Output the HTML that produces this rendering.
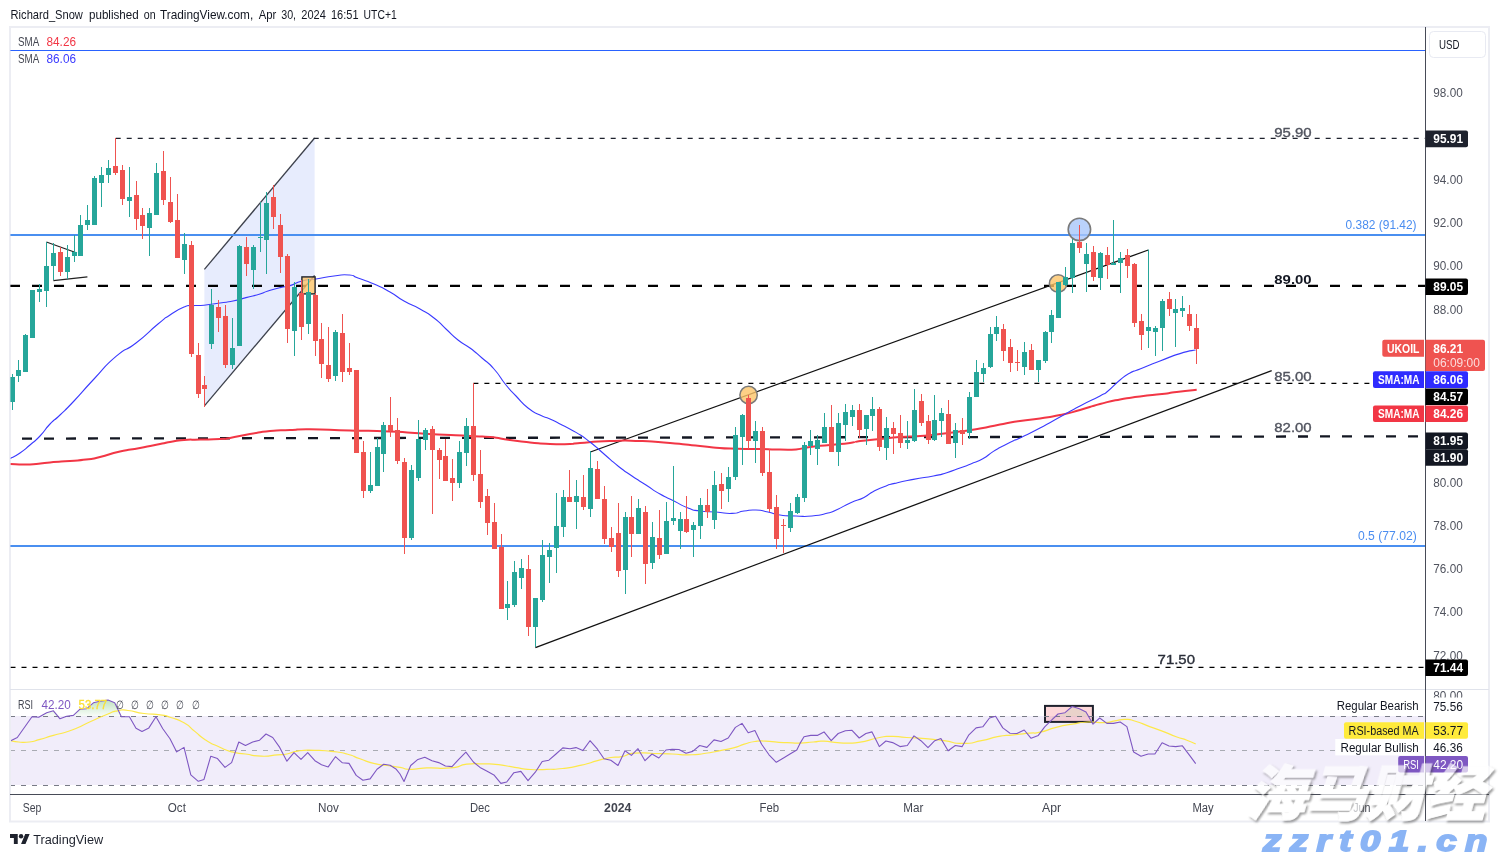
<!DOCTYPE html>
<html><head><meta charset="utf-8"><title>UKOIL chart</title>
<style>
html,body{margin:0;padding:0;background:#fff;}
body{width:1499px;height:857px;overflow:hidden;position:relative;font-family:"Liberation Sans", sans-serif;}
svg{position:absolute;left:0;top:0;display:block}
svg text{font-family:"Liberation Sans", sans-serif;}
svg text.wm{font-family:"Liberation Sans","Noto Sans CJK SC","WenQuanYi Zen Hei",sans-serif;font-weight:900;}
</style></head><body>
<svg width="1499" height="857" viewBox="0 0 1499 857">
<rect width="1499" height="857" fill="#ffffff"/>
<text y="19" font-size="13" fill="#131722"><tspan x="10.6" textLength="72.3" lengthAdjust="spacingAndGlyphs">Richard_Snow</tspan> <tspan x="89" textLength="49.7" lengthAdjust="spacingAndGlyphs">published</tspan> <tspan x="143.8" textLength="11.8" lengthAdjust="spacingAndGlyphs">on</tspan> <tspan x="160" textLength="93.2" lengthAdjust="spacingAndGlyphs">TradingView.com,</tspan> <tspan x="258.7" textLength="17.6" lengthAdjust="spacingAndGlyphs">Apr</tspan> <tspan x="281.2" textLength="14.9" lengthAdjust="spacingAndGlyphs">30,</tspan> <tspan x="301.3" textLength="24.5" lengthAdjust="spacingAndGlyphs">2024</tspan> <tspan x="331" textLength="27.5" lengthAdjust="spacingAndGlyphs">16:51</tspan> <tspan x="363.6" textLength="33.1" lengthAdjust="spacingAndGlyphs">UTC+1</tspan></text>
<rect x="10" y="27" width="1479" height="794.5" fill="#fff" stroke="#ecedf3" stroke-width="2"/>
<defs><clipPath id="mp"><rect x="10.4" y="28" width="1415.1" height="661"/></clipPath><clipPath id="rp"><rect x="11" y="690" width="1414.5" height="104"/></clipPath></defs>
<g clip-path="url(#mp)">
<line x1="10" y1="50.5" x2="1426" y2="50.5" stroke="#2962ff" stroke-width="1.1"/>
<polygon points="204.4,269.4 314.6,138 314.6,275.5 204.4,405.8" fill="#e7ecfd"/>
<line x1="204.4" y1="269.4" x2="314.6" y2="138" stroke="#3c404b" stroke-width="1.3"/>
<line x1="204.4" y1="405.8" x2="314.6" y2="275.5" stroke="#3c404b" stroke-width="1.3"/>
<line x1="10" y1="235" x2="1426" y2="235" stroke="#4a8ff0" stroke-width="2"/>
<line x1="10" y1="546" x2="1426" y2="546" stroke="#4a8ff0" stroke-width="2"/>
<line x1="115.7" y1="138.4" x2="1426" y2="138.4" stroke="#1e222d" stroke-width="1.15" stroke-dasharray="5 6"/>
<line x1="10" y1="285.9" x2="1426" y2="285.9" stroke="#000" stroke-width="2.2" stroke-dasharray="10 12"/>
<line x1="473.4" y1="383.4" x2="1369.5" y2="383.4" stroke="#000" stroke-width="1.15" stroke-dasharray="5 6"/>
<line x1="22" y1="438.6" x2="1418.3" y2="436.3" stroke="#131722" stroke-width="2.3" stroke-dasharray="10 12"/>
<line x1="10.5" y1="667.4" x2="1426" y2="667.4" stroke="#000" stroke-width="1.15" stroke-dasharray="5 6"/>
<line x1="46.4" y1="242" x2="77" y2="253" stroke="#222" stroke-width="1.2"/>
<line x1="53.4" y1="280.6" x2="87.4" y2="276.8" stroke="#222" stroke-width="1.2"/>
<line x1="590.4" y1="452" x2="1148.3" y2="250" stroke="#111" stroke-width="1.3"/>
<line x1="535.4" y1="647.6" x2="1271.7" y2="370.7" stroke="#111" stroke-width="1.3"/>
<line x1="1148.5" y1="249.6" x2="1148.5" y2="330" stroke="#26a69a" stroke-width="1"/>
<path d="M10.4,464.0C16.9,464.1 16.8,464.9 30.0,464.4C43.2,463.9 36.7,463.5 50.0,462.4C63.3,461.3 58.0,461.9 70.0,461.0C82.0,460.1 76.0,460.9 86.0,459.6C96.0,458.3 88.7,459.7 100.0,457.0C111.3,454.3 106.7,454.6 120.0,451.6C133.3,448.6 126.7,450.5 140.0,448.0C153.3,445.5 150.0,446.0 160.0,444.0C170.0,442.0 162.0,443.3 170.0,442.0C178.0,440.7 174.0,440.8 184.0,440.0C194.0,439.2 188.0,439.9 200.0,439.6C212.0,439.3 210.0,439.5 220.0,439.0C230.0,438.5 220.0,439.7 230.0,438.0C240.0,436.3 236.7,436.3 250.0,434.0C263.3,431.7 256.7,432.3 270.0,431.0C283.3,429.7 276.7,430.6 290.0,430.0C303.3,429.4 290.0,429.1 310.0,429.2C330.0,429.3 323.3,429.6 350.0,430.4C376.7,431.2 363.3,430.4 390.0,431.6C416.7,432.8 403.3,432.5 430.0,434.0C456.7,435.5 450.0,435.0 470.0,436.0C490.0,437.0 476.7,435.7 490.0,437.0C503.3,438.3 496.7,438.2 510.0,440.0C523.3,441.8 516.7,441.1 530.0,442.4C543.3,443.7 536.7,443.5 550.0,444.0C563.3,444.5 560.0,444.3 570.0,444.0C580.0,443.7 566.7,444.0 580.0,443.0C593.3,442.0 590.0,441.7 610.0,441.0C630.0,440.3 620.0,440.3 640.0,441.0C660.0,441.7 650.0,441.3 670.0,443.0C690.0,444.7 680.0,444.1 700.0,446.0C720.0,447.9 710.0,447.6 730.0,448.6C750.0,449.6 743.3,448.7 760.0,449.0C776.7,449.3 768.0,449.5 780.0,449.6C792.0,449.7 786.0,450.3 796.0,449.4C806.0,448.5 798.7,448.5 810.0,447.0C821.3,445.5 816.7,446.3 830.0,445.0C843.3,443.7 840.0,444.3 850.0,443.0C860.0,441.7 850.0,442.3 860.0,441.0C870.0,439.7 866.7,440.3 880.0,439.0C893.3,437.7 886.7,438.0 900.0,437.0C913.3,436.0 906.7,437.0 920.0,436.0C933.3,435.0 926.7,435.5 940.0,434.0C953.3,432.5 946.7,433.4 960.0,431.6C973.3,429.8 966.7,431.0 980.0,428.6C993.3,426.2 986.7,426.9 1000.0,424.4C1013.3,421.9 1006.7,423.0 1020.0,421.0C1033.3,419.0 1026.7,420.4 1040.0,418.4C1053.3,416.4 1046.7,417.8 1060.0,415.0C1073.3,412.2 1066.7,413.7 1080.0,410.0C1093.3,406.3 1086.7,407.5 1100.0,404.0C1113.3,400.5 1106.7,401.9 1120.0,399.4C1133.3,396.9 1126.0,398.4 1140.0,396.6C1154.0,394.8 1149.8,395.5 1162.0,394.0C1174.2,392.5 1165.1,393.4 1176.7,392.0C1188.3,390.6 1190.0,390.5 1196.7,389.8" fill="none" stroke="#f23645" stroke-width="2" stroke-linejoin="round"/>
<path d="M10.4,458.4C13.6,456.6 13.5,457.5 20.0,453.0C26.5,448.5 23.3,450.7 30.0,445.0C36.7,439.3 33.3,443.0 40.0,436.0C46.7,429.0 43.3,431.0 50.0,424.0C56.7,417.0 52.0,422.7 60.0,415.0C68.0,407.3 62.7,413.0 74.0,401.0C85.3,389.0 80.0,393.9 94.0,379.0C108.0,364.1 102.0,368.4 116.0,356.4C130.0,344.4 122.0,353.8 136.0,343.0C150.0,332.2 146.7,333.3 158.0,324.0C169.3,314.7 161.3,320.7 170.0,315.0C178.7,309.3 176.7,310.1 184.0,307.0C191.3,303.9 185.3,306.2 192.0,305.6C198.7,305.0 194.7,306.1 204.0,305.2C213.3,304.3 210.3,304.4 220.0,303.0C229.7,301.6 224.3,302.8 233.0,301.0C241.7,299.2 237.0,299.9 246.0,297.6C255.0,295.3 252.7,296.2 260.0,294.0C267.3,291.8 261.3,293.1 268.0,291.0C274.7,288.9 272.7,289.4 280.0,287.6C287.3,285.8 282.7,287.8 290.0,285.6C297.3,283.4 293.3,283.2 302.0,281.0C310.7,278.8 305.3,280.7 316.0,279.0C326.7,277.3 323.0,277.3 334.0,276.0C345.0,274.7 341.0,274.3 349.0,275.0C357.0,275.7 349.7,275.0 358.0,278.0C366.3,281.0 363.3,279.3 374.0,284.0C384.7,288.7 380.0,286.3 390.0,292.0C400.0,297.7 394.0,295.3 404.0,301.0C414.0,306.7 410.0,303.3 420.0,309.0C430.0,314.7 425.3,311.3 434.0,318.0C442.7,324.7 438.0,321.7 446.0,329.0C454.0,336.3 450.0,333.7 458.0,340.0C466.0,346.3 462.0,342.0 470.0,348.0C478.0,354.0 474.0,351.0 482.0,358.0C490.0,365.0 486.0,360.0 494.0,369.0C502.0,378.0 498.7,376.0 506.0,385.0C513.3,394.0 508.7,388.3 516.0,396.0C523.3,403.7 520.0,401.7 528.0,408.0C536.0,414.3 532.7,411.3 540.0,415.0C547.3,418.7 542.7,415.7 550.0,419.0C557.3,422.3 553.3,420.5 562.0,425.0C570.7,429.5 566.7,426.7 576.0,432.4C585.3,438.1 580.7,434.8 590.0,442.0C599.3,449.2 594.7,446.0 604.0,454.0C613.3,462.0 608.7,458.7 618.0,466.0C627.3,473.3 622.7,469.7 632.0,476.0C641.3,482.3 636.7,479.0 646.0,485.0C655.3,491.0 650.7,488.7 660.0,494.0C669.3,499.3 664.7,496.3 674.0,501.0C683.3,505.7 679.3,504.7 688.0,508.0C696.7,511.3 690.7,509.7 700.0,511.0C709.3,512.3 705.3,511.2 716.0,512.0C726.7,512.8 722.7,513.7 732.0,513.4C741.3,513.1 736.0,512.1 744.0,511.0C752.0,509.9 748.0,509.7 756.0,510.0C764.0,510.3 760.0,510.3 768.0,512.0C776.0,513.7 770.7,513.7 780.0,515.0C789.3,516.3 785.3,515.7 796.0,516.0C806.7,516.3 801.3,517.0 812.0,516.0C822.7,515.0 819.6,515.2 828.0,513.0C836.4,510.8 829.7,512.8 837.3,509.4C844.9,506.0 841.8,506.7 850.7,502.7C859.6,498.7 856.4,501.2 864.0,497.4C871.6,493.6 866.7,495.0 873.4,491.4C880.1,487.8 876.9,489.4 884.0,486.7C891.1,484.0 884.9,485.8 894.7,483.4C904.5,481.0 900.5,481.9 913.4,479.4C926.3,476.9 922.3,478.2 933.4,476.0C944.5,473.8 937.9,475.4 946.8,472.7C955.7,470.0 952.0,470.9 960.0,468.0C968.0,465.1 963.2,467.1 970.8,464.0C978.4,460.9 975.3,462.9 982.8,458.7C990.3,454.5 986.3,455.8 993.4,451.4C1000.5,447.0 997.3,449.0 1004.0,445.4C1010.7,441.8 1008.2,443.2 1013.5,440.7C1018.8,438.2 1011.2,442.2 1020.0,438.0C1028.8,433.8 1026.7,435.0 1040.0,428.0C1053.3,421.0 1046.7,424.3 1060.0,417.0C1073.3,409.7 1066.7,413.0 1080.0,406.0C1093.3,399.0 1090.7,401.0 1100.0,396.0C1109.3,391.0 1101.3,396.3 1108.0,391.0C1114.7,385.7 1112.7,386.0 1120.0,380.0C1127.3,374.0 1123.3,376.7 1130.0,373.0C1136.7,369.3 1130.0,373.0 1140.0,369.0C1150.0,365.0 1146.7,366.1 1160.0,361.0C1173.3,355.9 1168.1,357.3 1180.0,353.6C1191.9,349.9 1190.4,351.2 1195.6,350.0" fill="none" stroke="#3a3aff" stroke-width="1.1" stroke-linejoin="round"/>
<rect x="301.9" y="276.9" width="13.2" height="17" fill="#fcc468" fill-opacity="0.8" stroke="#20242e" stroke-width="1.4"/>
<circle cx="748.6" cy="395" r="8.7" fill="#fcc468" fill-opacity="0.8" stroke="#7a7a7a" stroke-width="1.5"/>
<circle cx="1058.1" cy="283.5" r="8.7" fill="#fcc468" fill-opacity="0.8" stroke="#7a7a7a" stroke-width="1.5"/>
<circle cx="1079.4" cy="229.4" r="11.2" fill="#a9c7fa" fill-opacity="0.8" stroke="#7a7a7a" stroke-width="1.6"/>
<g shape-rendering="crispEdges">
<rect x="12" y="374" width="1" height="36" fill="#26a69a"/><rect x="10" y="377" width="5" height="25" fill="#26a69a"/>
<rect x="18" y="360" width="1" height="22" fill="#26a69a"/><rect x="16" y="370" width="5" height="6" fill="#26a69a"/>
<rect x="25" y="334" width="1" height="38" fill="#26a69a"/><rect x="23" y="335" width="5" height="37" fill="#26a69a"/>
<rect x="32" y="290" width="1" height="48" fill="#26a69a"/><rect x="30" y="290" width="5" height="48" fill="#26a69a"/>
<rect x="39" y="284" width="1" height="18" fill="#26a69a"/><rect x="37" y="289" width="5" height="3" fill="#26a69a"/>
<rect x="46" y="242" width="1" height="65" fill="#26a69a"/><rect x="44" y="266" width="5" height="25" fill="#26a69a"/>
<rect x="53" y="243" width="1" height="37" fill="#26a69a"/><rect x="51" y="253" width="5" height="13" fill="#26a69a"/>
<rect x="60" y="247" width="1" height="29" fill="#ef5350"/><rect x="58" y="252" width="5" height="20" fill="#ef5350"/>
<rect x="67" y="245" width="1" height="34" fill="#26a69a"/><rect x="65" y="257" width="5" height="15" fill="#26a69a"/>
<rect x="74" y="235" width="1" height="27" fill="#26a69a"/><rect x="72" y="252" width="5" height="4" fill="#26a69a"/>
<rect x="80" y="215" width="1" height="41" fill="#26a69a"/><rect x="78" y="225" width="5" height="31" fill="#26a69a"/>
<rect x="87" y="205" width="1" height="25" fill="#26a69a"/><rect x="85" y="220" width="5" height="5" fill="#26a69a"/>
<rect x="94" y="176" width="1" height="49" fill="#26a69a"/><rect x="92" y="178" width="5" height="47" fill="#26a69a"/>
<rect x="101" y="167" width="1" height="40" fill="#26a69a"/><rect x="99" y="175" width="5" height="8" fill="#26a69a"/>
<rect x="108" y="160" width="1" height="23" fill="#26a69a"/><rect x="106" y="168" width="5" height="7" fill="#26a69a"/>
<rect x="115" y="138" width="1" height="37" fill="#ef5350"/><rect x="113" y="166" width="5" height="7" fill="#ef5350"/>
<rect x="122" y="165" width="1" height="40" fill="#ef5350"/><rect x="120" y="170" width="5" height="29" fill="#ef5350"/>
<rect x="129" y="167" width="1" height="50" fill="#26a69a"/><rect x="127" y="197" width="5" height="4" fill="#26a69a"/>
<rect x="136" y="181" width="1" height="49" fill="#ef5350"/><rect x="134" y="195" width="5" height="24" fill="#ef5350"/>
<rect x="142" y="208" width="1" height="31" fill="#ef5350"/><rect x="140" y="215" width="5" height="11" fill="#ef5350"/>
<rect x="149" y="208" width="1" height="48" fill="#26a69a"/><rect x="147" y="213" width="5" height="15" fill="#26a69a"/>
<rect x="156" y="163" width="1" height="52" fill="#26a69a"/><rect x="154" y="173" width="5" height="42" fill="#26a69a"/>
<rect x="163" y="151" width="1" height="54" fill="#ef5350"/><rect x="161" y="171" width="5" height="29" fill="#ef5350"/>
<rect x="170" y="177" width="1" height="46" fill="#ef5350"/><rect x="168" y="202" width="5" height="20" fill="#ef5350"/>
<rect x="177" y="194" width="1" height="64" fill="#ef5350"/><rect x="175" y="220" width="5" height="38" fill="#ef5350"/>
<rect x="184" y="233" width="1" height="41" fill="#26a69a"/><rect x="182" y="244" width="5" height="16" fill="#26a69a"/>
<rect x="191" y="241" width="1" height="116" fill="#ef5350"/><rect x="189" y="245" width="5" height="109" fill="#ef5350"/>
<rect x="198" y="343" width="1" height="55" fill="#ef5350"/><rect x="196" y="355" width="5" height="39" fill="#ef5350"/>
<rect x="204" y="376" width="1" height="31" fill="#ef5350"/><rect x="202" y="385" width="5" height="4" fill="#ef5350"/>
<rect x="211" y="289" width="1" height="60" fill="#26a69a"/><rect x="209" y="305" width="5" height="39" fill="#26a69a"/>
<rect x="218" y="300" width="1" height="32" fill="#ef5350"/><rect x="216" y="307" width="5" height="11" fill="#ef5350"/>
<rect x="225" y="305" width="1" height="63" fill="#ef5350"/><rect x="223" y="316" width="5" height="49" fill="#ef5350"/>
<rect x="232" y="318" width="1" height="51" fill="#26a69a"/><rect x="230" y="348" width="5" height="17" fill="#26a69a"/>
<rect x="239" y="245" width="1" height="101" fill="#26a69a"/><rect x="237" y="246" width="5" height="100" fill="#26a69a"/>
<rect x="246" y="237" width="1" height="39" fill="#ef5350"/><rect x="244" y="247" width="5" height="17" fill="#ef5350"/>
<rect x="253" y="245" width="1" height="44" fill="#26a69a"/><rect x="251" y="247" width="5" height="23" fill="#26a69a"/>
<rect x="260" y="202" width="1" height="50" fill="#26a69a"/><rect x="258" y="237" width="5" height="1" fill="#26a69a"/>
<rect x="266" y="192" width="1" height="82" fill="#26a69a"/><rect x="264" y="203" width="5" height="37" fill="#26a69a"/>
<rect x="273" y="185" width="1" height="44" fill="#ef5350"/><rect x="271" y="197" width="5" height="20" fill="#ef5350"/>
<rect x="280" y="214" width="1" height="59" fill="#ef5350"/><rect x="278" y="225" width="5" height="32" fill="#ef5350"/>
<rect x="287" y="254" width="1" height="89" fill="#ef5350"/><rect x="285" y="256" width="5" height="73" fill="#ef5350"/>
<rect x="294" y="282" width="1" height="74" fill="#26a69a"/><rect x="292" y="287" width="5" height="44" fill="#26a69a"/>
<rect x="301" y="280" width="1" height="60" fill="#ef5350"/><rect x="299" y="293" width="5" height="34" fill="#ef5350"/>
<rect x="308" y="279" width="1" height="55" fill="#26a69a"/><rect x="306" y="292" width="5" height="32" fill="#26a69a"/>
<rect x="315" y="293" width="1" height="63" fill="#ef5350"/><rect x="313" y="295" width="5" height="46" fill="#ef5350"/>
<rect x="321" y="323" width="1" height="55" fill="#ef5350"/><rect x="319" y="339" width="5" height="25" fill="#ef5350"/>
<rect x="328" y="327" width="1" height="55" fill="#ef5350"/><rect x="326" y="365" width="5" height="14" fill="#ef5350"/>
<rect x="335" y="330" width="1" height="51" fill="#26a69a"/><rect x="333" y="332" width="5" height="44" fill="#26a69a"/>
<rect x="342" y="314" width="1" height="68" fill="#ef5350"/><rect x="340" y="333" width="5" height="39" fill="#ef5350"/>
<rect x="349" y="343" width="1" height="32" fill="#ef5350"/><rect x="347" y="368" width="5" height="4" fill="#ef5350"/>
<rect x="356" y="370" width="1" height="83" fill="#ef5350"/><rect x="354" y="370" width="5" height="83" fill="#ef5350"/>
<rect x="363" y="441" width="1" height="57" fill="#ef5350"/><rect x="361" y="452" width="5" height="39" fill="#ef5350"/>
<rect x="370" y="452" width="1" height="41" fill="#26a69a"/><rect x="368" y="485" width="5" height="6" fill="#26a69a"/>
<rect x="377" y="438" width="1" height="48" fill="#26a69a"/><rect x="375" y="447" width="5" height="39" fill="#26a69a"/>
<rect x="383" y="422" width="1" height="50" fill="#26a69a"/><rect x="381" y="425" width="5" height="29" fill="#26a69a"/>
<rect x="390" y="397" width="1" height="40" fill="#ef5350"/><rect x="388" y="425" width="5" height="6" fill="#ef5350"/>
<rect x="397" y="418" width="1" height="46" fill="#ef5350"/><rect x="395" y="430" width="5" height="31" fill="#ef5350"/>
<rect x="404" y="458" width="1" height="96" fill="#ef5350"/><rect x="402" y="462" width="5" height="76" fill="#ef5350"/>
<rect x="411" y="465" width="1" height="75" fill="#26a69a"/><rect x="409" y="470" width="5" height="68" fill="#26a69a"/>
<rect x="418" y="420" width="1" height="61" fill="#26a69a"/><rect x="416" y="439" width="5" height="39" fill="#26a69a"/>
<rect x="425" y="428" width="1" height="22" fill="#26a69a"/><rect x="423" y="430" width="5" height="10" fill="#26a69a"/>
<rect x="432" y="426" width="1" height="88" fill="#ef5350"/><rect x="430" y="429" width="5" height="21" fill="#ef5350"/>
<rect x="439" y="448" width="1" height="31" fill="#ef5350"/><rect x="437" y="450" width="5" height="10" fill="#ef5350"/>
<rect x="445" y="439" width="1" height="42" fill="#ef5350"/><rect x="443" y="456" width="5" height="25" fill="#ef5350"/>
<rect x="452" y="459" width="1" height="42" fill="#ef5350"/><rect x="450" y="478" width="5" height="5" fill="#ef5350"/>
<rect x="459" y="441" width="1" height="47" fill="#26a69a"/><rect x="457" y="452" width="5" height="31" fill="#26a69a"/>
<rect x="466" y="418" width="1" height="48" fill="#26a69a"/><rect x="464" y="426" width="5" height="27" fill="#26a69a"/>
<rect x="473" y="383" width="1" height="98" fill="#ef5350"/><rect x="471" y="426" width="5" height="49" fill="#ef5350"/>
<rect x="480" y="450" width="1" height="58" fill="#ef5350"/><rect x="478" y="474" width="5" height="28" fill="#ef5350"/>
<rect x="487" y="489" width="1" height="46" fill="#ef5350"/><rect x="485" y="496" width="5" height="27" fill="#ef5350"/>
<rect x="494" y="503" width="1" height="46" fill="#ef5350"/><rect x="492" y="522" width="5" height="27" fill="#ef5350"/>
<rect x="501" y="534" width="1" height="75" fill="#ef5350"/><rect x="499" y="547" width="5" height="62" fill="#ef5350"/>
<rect x="507" y="581" width="1" height="39" fill="#26a69a"/><rect x="505" y="604" width="5" height="4" fill="#26a69a"/>
<rect x="514" y="561" width="1" height="46" fill="#26a69a"/><rect x="512" y="572" width="5" height="33" fill="#26a69a"/>
<rect x="521" y="559" width="1" height="30" fill="#26a69a"/><rect x="519" y="568" width="5" height="10" fill="#26a69a"/>
<rect x="528" y="555" width="1" height="81" fill="#ef5350"/><rect x="526" y="569" width="5" height="58" fill="#ef5350"/>
<rect x="535" y="598" width="1" height="49" fill="#26a69a"/><rect x="533" y="598" width="5" height="29" fill="#26a69a"/>
<rect x="542" y="540" width="1" height="62" fill="#26a69a"/><rect x="540" y="555" width="5" height="45" fill="#26a69a"/>
<rect x="549" y="543" width="1" height="40" fill="#26a69a"/><rect x="547" y="550" width="5" height="7" fill="#26a69a"/>
<rect x="556" y="493" width="1" height="80" fill="#26a69a"/><rect x="554" y="526" width="5" height="22" fill="#26a69a"/>
<rect x="563" y="490" width="1" height="47" fill="#26a69a"/><rect x="561" y="497" width="5" height="30" fill="#26a69a"/>
<rect x="569" y="470" width="1" height="32" fill="#ef5350"/><rect x="567" y="497" width="5" height="5" fill="#ef5350"/>
<rect x="576" y="480" width="1" height="49" fill="#26a69a"/><rect x="574" y="496" width="5" height="6" fill="#26a69a"/>
<rect x="583" y="475" width="1" height="35" fill="#ef5350"/><rect x="581" y="497" width="5" height="10" fill="#ef5350"/>
<rect x="590" y="451" width="1" height="66" fill="#26a69a"/><rect x="588" y="468" width="5" height="41" fill="#26a69a"/>
<rect x="597" y="461" width="1" height="38" fill="#ef5350"/><rect x="595" y="469" width="5" height="30" fill="#ef5350"/>
<rect x="604" y="486" width="1" height="58" fill="#ef5350"/><rect x="602" y="499" width="5" height="40" fill="#ef5350"/>
<rect x="611" y="527" width="1" height="25" fill="#ef5350"/><rect x="609" y="538" width="5" height="9" fill="#ef5350"/>
<rect x="618" y="503" width="1" height="74" fill="#ef5350"/><rect x="616" y="533" width="5" height="38" fill="#ef5350"/>
<rect x="625" y="512" width="1" height="82" fill="#26a69a"/><rect x="623" y="517" width="5" height="53" fill="#26a69a"/>
<rect x="631" y="496" width="1" height="61" fill="#ef5350"/><rect x="629" y="517" width="5" height="17" fill="#ef5350"/>
<rect x="638" y="499" width="1" height="35" fill="#26a69a"/><rect x="636" y="508" width="5" height="26" fill="#26a69a"/>
<rect x="645" y="506" width="1" height="78" fill="#ef5350"/><rect x="643" y="512" width="5" height="52" fill="#ef5350"/>
<rect x="652" y="522" width="1" height="47" fill="#26a69a"/><rect x="650" y="537" width="5" height="26" fill="#26a69a"/>
<rect x="659" y="510" width="1" height="49" fill="#ef5350"/><rect x="657" y="538" width="5" height="17" fill="#ef5350"/>
<rect x="666" y="502" width="1" height="52" fill="#26a69a"/><rect x="664" y="521" width="5" height="33" fill="#26a69a"/>
<rect x="673" y="466" width="1" height="59" fill="#26a69a"/><rect x="671" y="518" width="5" height="3" fill="#26a69a"/>
<rect x="680" y="512" width="1" height="37" fill="#26a69a"/><rect x="678" y="519" width="5" height="12" fill="#26a69a"/>
<rect x="686" y="496" width="1" height="37" fill="#ef5350"/><rect x="684" y="519" width="5" height="13" fill="#ef5350"/>
<rect x="693" y="522" width="1" height="35" fill="#26a69a"/><rect x="691" y="525" width="5" height="5" fill="#26a69a"/>
<rect x="700" y="498" width="1" height="41" fill="#26a69a"/><rect x="698" y="505" width="5" height="21" fill="#26a69a"/>
<rect x="707" y="489" width="1" height="29" fill="#ef5350"/><rect x="705" y="505" width="5" height="7" fill="#ef5350"/>
<rect x="714" y="471" width="1" height="58" fill="#26a69a"/><rect x="712" y="485" width="5" height="35" fill="#26a69a"/>
<rect x="721" y="473" width="1" height="36" fill="#ef5350"/><rect x="719" y="484" width="5" height="7" fill="#ef5350"/>
<rect x="728" y="467" width="1" height="35" fill="#26a69a"/><rect x="726" y="477" width="5" height="12" fill="#26a69a"/>
<rect x="735" y="427" width="1" height="53" fill="#26a69a"/><rect x="733" y="435" width="5" height="42" fill="#26a69a"/>
<rect x="742" y="414" width="1" height="51" fill="#26a69a"/><rect x="740" y="415" width="5" height="22" fill="#26a69a"/>
<rect x="748" y="395" width="1" height="54" fill="#ef5350"/><rect x="746" y="398" width="5" height="43" fill="#ef5350"/>
<rect x="755" y="421" width="1" height="42" fill="#26a69a"/><rect x="753" y="431" width="5" height="10" fill="#26a69a"/>
<rect x="762" y="427" width="1" height="49" fill="#ef5350"/><rect x="760" y="431" width="5" height="42" fill="#ef5350"/>
<rect x="769" y="449" width="1" height="63" fill="#ef5350"/><rect x="767" y="472" width="5" height="37" fill="#ef5350"/>
<rect x="776" y="495" width="1" height="54" fill="#ef5350"/><rect x="774" y="507" width="5" height="32" fill="#ef5350"/>
<rect x="783" y="519" width="1" height="34" fill="#ef5350"/><rect x="781" y="525" width="5" height="1" fill="#ef5350"/>
<rect x="790" y="503" width="1" height="29" fill="#26a69a"/><rect x="788" y="511" width="5" height="17" fill="#26a69a"/>
<rect x="797" y="494" width="1" height="20" fill="#26a69a"/><rect x="795" y="497" width="5" height="16" fill="#26a69a"/>
<rect x="804" y="442" width="1" height="60" fill="#26a69a"/><rect x="802" y="445" width="5" height="53" fill="#26a69a"/>
<rect x="810" y="430" width="1" height="25" fill="#26a69a"/><rect x="808" y="441" width="5" height="5" fill="#26a69a"/>
<rect x="817" y="435" width="1" height="30" fill="#26a69a"/><rect x="815" y="440" width="5" height="9" fill="#26a69a"/>
<rect x="824" y="413" width="1" height="30" fill="#26a69a"/><rect x="822" y="427" width="5" height="16" fill="#26a69a"/>
<rect x="831" y="405" width="1" height="47" fill="#ef5350"/><rect x="829" y="427" width="5" height="25" fill="#ef5350"/>
<rect x="838" y="413" width="1" height="53" fill="#26a69a"/><rect x="836" y="423" width="5" height="29" fill="#26a69a"/>
<rect x="845" y="404" width="1" height="37" fill="#26a69a"/><rect x="843" y="412" width="5" height="13" fill="#26a69a"/>
<rect x="852" y="405" width="1" height="21" fill="#26a69a"/><rect x="850" y="410" width="5" height="7" fill="#26a69a"/>
<rect x="859" y="404" width="1" height="34" fill="#ef5350"/><rect x="857" y="410" width="5" height="20" fill="#ef5350"/>
<rect x="866" y="415" width="1" height="30" fill="#26a69a"/><rect x="864" y="415" width="5" height="14" fill="#26a69a"/>
<rect x="872" y="397" width="1" height="34" fill="#26a69a"/><rect x="870" y="409" width="5" height="7" fill="#26a69a"/>
<rect x="879" y="407" width="1" height="44" fill="#ef5350"/><rect x="877" y="409" width="5" height="38" fill="#ef5350"/>
<rect x="886" y="417" width="1" height="43" fill="#26a69a"/><rect x="884" y="428" width="5" height="20" fill="#26a69a"/>
<rect x="893" y="422" width="1" height="32" fill="#ef5350"/><rect x="891" y="428" width="5" height="6" fill="#ef5350"/>
<rect x="900" y="415" width="1" height="33" fill="#ef5350"/><rect x="898" y="433" width="5" height="10" fill="#ef5350"/>
<rect x="907" y="421" width="1" height="28" fill="#26a69a"/><rect x="905" y="440" width="5" height="3" fill="#26a69a"/>
<rect x="914" y="389" width="1" height="53" fill="#26a69a"/><rect x="912" y="410" width="5" height="31" fill="#26a69a"/>
<rect x="921" y="394" width="1" height="32" fill="#ef5350"/><rect x="919" y="401" width="5" height="22" fill="#ef5350"/>
<rect x="928" y="415" width="1" height="29" fill="#ef5350"/><rect x="926" y="421" width="5" height="19" fill="#ef5350"/>
<rect x="934" y="395" width="1" height="46" fill="#26a69a"/><rect x="932" y="420" width="5" height="20" fill="#26a69a"/>
<rect x="941" y="408" width="1" height="29" fill="#26a69a"/><rect x="939" y="413" width="5" height="8" fill="#26a69a"/>
<rect x="948" y="400" width="1" height="44" fill="#ef5350"/><rect x="946" y="414" width="5" height="30" fill="#ef5350"/>
<rect x="955" y="423" width="1" height="35" fill="#26a69a"/><rect x="953" y="430" width="5" height="13" fill="#26a69a"/>
<rect x="962" y="418" width="1" height="27" fill="#ef5350"/><rect x="960" y="430" width="5" height="4" fill="#ef5350"/>
<rect x="969" y="392" width="1" height="47" fill="#26a69a"/><rect x="967" y="397" width="5" height="36" fill="#26a69a"/>
<rect x="976" y="360" width="1" height="37" fill="#26a69a"/><rect x="974" y="372" width="5" height="25" fill="#26a69a"/>
<rect x="983" y="363" width="1" height="19" fill="#26a69a"/><rect x="981" y="368" width="5" height="6" fill="#26a69a"/>
<rect x="990" y="327" width="1" height="41" fill="#26a69a"/><rect x="988" y="334" width="5" height="33" fill="#26a69a"/>
<rect x="996" y="316" width="1" height="25" fill="#26a69a"/><rect x="994" y="327" width="5" height="7" fill="#26a69a"/>
<rect x="1003" y="324" width="1" height="37" fill="#ef5350"/><rect x="1001" y="329" width="5" height="22" fill="#ef5350"/>
<rect x="1010" y="339" width="1" height="33" fill="#ef5350"/><rect x="1008" y="347" width="5" height="16" fill="#ef5350"/>
<rect x="1017" y="350" width="1" height="21" fill="#ef5350"/><rect x="1015" y="362" width="5" height="1" fill="#ef5350"/>
<rect x="1024" y="342" width="1" height="33" fill="#26a69a"/><rect x="1022" y="352" width="5" height="15" fill="#26a69a"/>
<rect x="1031" y="344" width="1" height="26" fill="#ef5350"/><rect x="1029" y="350" width="5" height="20" fill="#ef5350"/>
<rect x="1038" y="360" width="1" height="22" fill="#26a69a"/><rect x="1036" y="360" width="5" height="10" fill="#26a69a"/>
<rect x="1045" y="331" width="1" height="32" fill="#26a69a"/><rect x="1043" y="332" width="5" height="29" fill="#26a69a"/>
<rect x="1051" y="310" width="1" height="33" fill="#26a69a"/><rect x="1049" y="315" width="5" height="17" fill="#26a69a"/>
<rect x="1058" y="282" width="1" height="36" fill="#26a69a"/><rect x="1056" y="282" width="5" height="36" fill="#26a69a"/>
<rect x="1065" y="267" width="1" height="19" fill="#26a69a"/><rect x="1063" y="277" width="5" height="8" fill="#26a69a"/>
<rect x="1072" y="239" width="1" height="54" fill="#26a69a"/><rect x="1070" y="243" width="5" height="35" fill="#26a69a"/>
<rect x="1079" y="225" width="1" height="28" fill="#ef5350"/><rect x="1077" y="242" width="5" height="6" fill="#ef5350"/>
<rect x="1086" y="243" width="1" height="49" fill="#26a69a"/><rect x="1084" y="254" width="5" height="10" fill="#26a69a"/>
<rect x="1093" y="246" width="1" height="35" fill="#ef5350"/><rect x="1091" y="252" width="5" height="25" fill="#ef5350"/>
<rect x="1100" y="252" width="1" height="38" fill="#26a69a"/><rect x="1098" y="253" width="5" height="25" fill="#26a69a"/>
<rect x="1107" y="247" width="1" height="32" fill="#ef5350"/><rect x="1105" y="255" width="5" height="10" fill="#ef5350"/>
<rect x="1113" y="220" width="1" height="45" fill="#26a69a"/><rect x="1111" y="263" width="5" height="2" fill="#26a69a"/>
<rect x="1120" y="252" width="1" height="41" fill="#26a69a"/><rect x="1118" y="258" width="5" height="5" fill="#26a69a"/>
<rect x="1127" y="249" width="1" height="29" fill="#ef5350"/><rect x="1125" y="255" width="5" height="11" fill="#ef5350"/>
<rect x="1134" y="263" width="1" height="64" fill="#ef5350"/><rect x="1132" y="264" width="5" height="59" fill="#ef5350"/>
<rect x="1141" y="314" width="1" height="36" fill="#ef5350"/><rect x="1139" y="321" width="5" height="14" fill="#ef5350"/>
<rect x="1148" y="250" width="1" height="98" fill="#26a69a"/><rect x="1146" y="327" width="5" height="4" fill="#26a69a"/>
<rect x="1155" y="326" width="1" height="30" fill="#26a69a"/><rect x="1153" y="328" width="5" height="4" fill="#26a69a"/>
<rect x="1162" y="299" width="1" height="52" fill="#26a69a"/><rect x="1160" y="301" width="5" height="27" fill="#26a69a"/>
<rect x="1169" y="292" width="1" height="24" fill="#ef5350"/><rect x="1167" y="299" width="5" height="10" fill="#ef5350"/>
<rect x="1175" y="299" width="1" height="48" fill="#26a69a"/><rect x="1173" y="309" width="5" height="4" fill="#26a69a"/>
<rect x="1182" y="296" width="1" height="21" fill="#26a69a"/><rect x="1180" y="308" width="5" height="3" fill="#26a69a"/>
<rect x="1189" y="305" width="1" height="26" fill="#ef5350"/><rect x="1187" y="314" width="5" height="12" fill="#ef5350"/>
<rect x="1196" y="314" width="1" height="50" fill="#ef5350"/><rect x="1194" y="328" width="5" height="21" fill="#ef5350"/>
</g>
<text x="1274.3" y="136.5" font-size="13" fill="#50535e" text-anchor="start" font-weight="normal" textLength="37.4" lengthAdjust="spacingAndGlyphs" stroke="#50535e" stroke-width="0.35">95.90</text>
<text x="1274.3" y="283.5" font-size="13" fill="#131722" text-anchor="start" font-weight="bold" textLength="37.4" lengthAdjust="spacingAndGlyphs">89.00</text>
<text x="1274.3" y="380.8" font-size="13" fill="#50535e" text-anchor="start" font-weight="normal" textLength="37.4" lengthAdjust="spacingAndGlyphs" stroke="#50535e" stroke-width="0.35">85.00</text>
<text x="1274.3" y="432.0" font-size="13" fill="#50535e" text-anchor="start" font-weight="normal" textLength="37.4" lengthAdjust="spacingAndGlyphs" stroke="#50535e" stroke-width="0.35">82.00</text>
<text x="1157.6" y="664.0" font-size="13" fill="#2a2e39" text-anchor="start" font-weight="normal" textLength="37.4" lengthAdjust="spacingAndGlyphs" stroke="#2a2e39" stroke-width="0.35">71.50</text>
<text x="1345.6" y="229.3" font-size="12" fill="#4a8df0" text-anchor="start" font-weight="normal" textLength="71.0" lengthAdjust="spacingAndGlyphs">0.382 (91.42)</text>
<text x="1358.0" y="540.3" font-size="12" fill="#4a8df0" text-anchor="start" font-weight="normal" textLength="58.7" lengthAdjust="spacingAndGlyphs">0.5 (77.02)</text>
</g>
<text x="18.0" y="45.8" font-size="12" fill="#434651" text-anchor="start" font-weight="normal" textLength="21.3" lengthAdjust="spacingAndGlyphs">SMA</text>
<text x="46.5" y="45.8" font-size="12" fill="#f23645" text-anchor="start" font-weight="normal" textLength="29.5" lengthAdjust="spacingAndGlyphs">84.26</text>
<text x="18.0" y="62.8" font-size="12" fill="#434651" text-anchor="start" font-weight="normal" textLength="21.3" lengthAdjust="spacingAndGlyphs">SMA</text>
<text x="46.5" y="62.8" font-size="12" fill="#3a3aff" text-anchor="start" font-weight="normal" textLength="29.5" lengthAdjust="spacingAndGlyphs">86.06</text>
<line x1="10" y1="689.5" x2="1489" y2="689.5" stroke="#e0e3eb" stroke-width="1"/>
<g clip-path="url(#rp)">
<rect x="10" y="716" width="1416" height="69" fill="#f1edfa"/>
<defs><linearGradient id="gg" x1="0" y1="0" x2="0" y2="1"><stop offset="0" stop-color="#4caf50" stop-opacity="0.35"/><stop offset="1" stop-color="#4caf50" stop-opacity="0.03"/></linearGradient></defs>
<polygon points="32.0,716.5 38.7,716.5 46.7,712.7 53.4,710.8 60.0,716.5 66.7,716.2 73.4,715.4 80.0,709.2 86.7,708.7 93.4,702.8 100.0,701.2 108.0,700.1 114.7,702.8 121.4,716.5 129.4,716.5 129.4,716.5 32,716.5" fill="url(#gg)"/>
<rect x="1045" y="705.9" width="47.9" height="16" fill="#f77c80" fill-opacity="0.3" stroke="#1e222d" stroke-width="2"/>
<polygon points="1052.5,716.5 1051.6,720.2 1058.0,714.0 1065.0,712.7 1072.2,706.5 1079.4,708.7 1086.0,711.9 1088.6,716.5" fill="#4caf50" fill-opacity="0.11"/>
<line x1="10" y1="716.5" x2="1426" y2="716.5" stroke="#787b86" stroke-width="1" stroke-dasharray="5 6"/>
<line x1="10" y1="750.5" x2="1426" y2="750.5" stroke="#a9abb3" stroke-width="1" stroke-dasharray="5 6"/>
<line x1="10" y1="785.5" x2="1426" y2="785.5" stroke="#787b86" stroke-width="1" stroke-dasharray="5 6"/>
<path d="M10.7,740.7C13.4,741.1 12.5,741.6 18.7,742.0C24.9,742.4 22.3,742.9 29.4,742.0C36.5,741.1 32.0,741.6 40.0,739.4C48.0,737.2 42.7,738.5 53.4,735.4C64.1,732.3 59.6,734.6 72.0,730.0C84.4,725.4 79.1,726.7 90.7,721.5C102.3,716.3 97.8,718.1 106.7,714.5C115.6,710.9 110.3,712.1 117.4,710.8C124.5,709.5 119.1,709.6 128.0,710.5C136.9,711.4 133.3,712.1 144.0,713.5C154.7,714.9 151.1,713.5 160.0,714.8C168.9,716.1 162.8,714.8 170.8,717.5C178.8,720.2 176.0,718.2 184.0,722.8C192.0,727.4 187.6,725.7 194.8,731.4C202.0,737.1 197.5,734.8 205.5,739.9C213.5,745.0 210.0,742.8 218.8,746.8C227.6,750.8 223.1,749.5 232.0,751.9C240.9,754.3 235.7,752.6 245.5,754.0C255.3,755.4 250.8,755.9 261.5,756.2C272.2,756.5 269.0,755.5 277.5,754.8C286.0,754.1 279.8,755.3 286.9,754.0C294.0,752.7 289.6,752.0 298.9,750.8C308.2,749.6 304.2,750.1 314.9,750.3C325.6,750.5 320.2,750.2 330.9,751.4C341.6,752.6 337.2,751.5 346.9,754.0C356.6,756.5 351.1,755.7 360.0,758.8C368.9,761.9 364.6,761.2 373.6,763.4C382.6,765.6 378.2,764.2 387.0,765.5C395.8,766.8 392.1,766.1 400.0,767.4C407.9,768.7 401.8,769.1 410.7,769.3C419.6,769.5 413.4,768.4 426.7,767.9C440.0,767.4 437.4,769.1 450.7,767.9C464.0,766.7 456.0,765.5 466.7,764.2C477.4,762.9 472.0,763.7 482.7,763.9C493.4,764.1 488.0,763.5 498.7,764.7C509.4,765.9 504.0,765.8 514.7,767.4C525.4,769.0 520.1,768.9 530.8,769.5C541.5,770.1 536.1,769.6 546.8,769.3C557.5,769.0 551.2,769.9 562.8,768.5C574.4,767.1 569.9,767.8 581.5,765.2C593.1,762.6 587.7,763.3 597.5,760.7C607.3,758.1 602.8,758.8 610.8,757.5C618.8,756.2 613.5,758.1 621.5,756.7C629.5,755.3 624.1,754.3 634.8,753.2C645.5,752.1 641.0,753.2 653.5,753.5C666.0,753.8 660.6,753.6 672.2,754.0C683.8,754.4 677.5,755.0 688.2,754.8C698.9,754.6 693.5,754.9 704.2,753.5C714.9,752.1 710.4,752.5 720.2,750.6C730.0,748.7 725.5,750.0 733.5,747.9C741.5,745.8 737.1,746.3 744.2,744.2C751.3,742.1 747.8,742.5 754.9,741.5C762.0,740.5 757.6,740.9 765.6,741.2C773.6,741.5 770.0,741.8 778.9,742.3C787.8,742.8 785.3,742.5 792.3,742.8C799.3,743.1 793.0,743.4 800.0,743.1C807.0,742.8 805.3,742.6 813.3,742.0C821.3,741.4 815.1,740.9 824.0,741.2C832.9,741.5 828.4,742.4 840.0,742.8C851.6,743.2 846.2,743.9 858.7,742.3C871.2,740.7 866.7,740.0 877.4,738.0C888.1,736.0 880.9,736.6 890.7,736.4C900.5,736.2 895.1,736.8 906.7,737.5C918.3,738.2 912.9,737.5 925.4,738.6C937.9,739.7 931.6,739.1 944.1,740.7C956.6,742.3 950.3,743.4 962.8,743.4C975.3,743.4 969.9,742.9 981.5,740.7C993.1,738.5 986.8,738.7 997.5,736.7C1008.2,734.7 1002.8,736.0 1013.5,734.8C1024.2,733.6 1020.7,734.1 1029.5,733.2C1038.3,732.3 1031.1,734.1 1040.0,732.2C1048.9,730.3 1045.5,730.1 1056.2,727.4C1066.9,724.7 1061.5,726.0 1072.2,724.2C1082.9,722.4 1077.5,722.5 1088.2,722.0C1098.9,721.5 1095.3,723.0 1104.2,722.6C1113.1,722.2 1107.8,722.0 1114.9,720.9C1122.0,719.8 1118.4,719.2 1125.5,719.4C1132.6,719.6 1128.2,719.1 1136.2,721.5C1144.2,723.9 1140.7,723.3 1149.6,726.6C1158.5,729.9 1154.0,728.0 1162.9,731.4C1171.8,734.8 1168.2,733.8 1176.2,736.7C1184.2,739.6 1180.4,737.8 1186.9,740.2C1193.4,742.6 1192.8,742.7 1195.7,743.9" fill="none" stroke="#fde84a" stroke-width="1.2" stroke-linejoin="round"/>
<polyline points="10.7,740.7 17.3,737.5 32.0,716.7 38.7,717.2 46.7,712.7 53.4,710.8 60.0,718.8 66.7,716.2 73.4,715.4 80.0,709.2 86.7,708.7 93.4,702.8 100.0,701.2 108.0,700.1 114.7,702.8 121.4,716.7 129.4,716.7 136.0,728.2 142.0,731.4 148.9,727.9 156.0,716.7 162.8,728.7 170.0,738.8 176.7,751.9 184.0,747.4 190.8,774.9 198.3,781.3 204.0,779.4 210.8,756.2 217.5,758.6 225.0,767.4 231.6,762.6 238.8,742.0 245.5,745.5 252.7,742.0 259.6,740.2 266.0,734.0 272.7,737.5 279.7,747.4 286.9,761.2 294.0,752.7 301.0,759.4 307.7,752.7 314.9,760.7 321.5,764.7 328.2,766.9 335.4,756.7 342.4,762.8 349.0,763.4 356.2,775.4 362.9,780.2 370.1,778.9 377.0,769.3 383.7,764.2 390.1,765.2 396.3,769.3 400.0,774.0 404.0,781.5 410.7,765.5 417.9,759.4 424.8,757.2 432.0,760.7 438.7,762.6 445.4,766.0 452.0,766.6 458.7,759.4 465.9,752.2 473.4,762.0 480.0,767.4 486.7,770.9 493.9,774.9 500.9,783.4 506.7,782.0 513.9,772.7 520.9,771.4 528.0,780.7 535.3,772.2 542.2,761.5 548.9,760.2 556.0,754.0 562.8,747.9 570.0,748.7 576.0,747.6 582.8,750.6 590.0,740.7 597.5,749.2 604.0,758.8 610.8,760.2 618.0,765.5 625.0,750.8 631.4,755.4 638.0,748.7 645.0,760.7 652.0,754.0 658.8,758.0 666.0,750.0 672.2,749.2 678.9,749.5 686.0,753.2 692.7,751.4 699.7,745.5 706.9,747.4 714.0,739.9 721.0,741.5 728.2,738.0 735.4,727.4 742.0,723.4 748.2,732.7 754.9,730.6 761.6,744.2 769.0,754.8 776.3,762.3 783.5,758.0 790.0,754.0 796.8,750.0 800.0,743.4 804.0,736.7 810.7,735.4 817.3,735.4 824.0,731.9 831.2,740.7 838.2,733.5 845.4,730.8 852.0,730.3 859.2,738.0 865.9,733.5 872.0,731.9 879.3,746.6 885.9,741.0 892.6,742.6 900.0,746.6 907.3,745.5 914.0,735.9 920.9,740.7 928.0,747.6 934.8,740.7 940.9,738.6 948.1,750.8 955.3,745.5 962.2,746.6 968.9,734.8 976.1,727.9 982.8,726.8 989.5,718.0 995.6,716.2 1002.8,727.9 1010.0,733.2 1016.9,733.5 1024.2,730.0 1031.1,738.3 1038.3,735.4 1044.7,726.8 1051.6,720.2 1058.0,714.0 1065.0,712.7 1072.2,706.5 1079.4,708.7 1086.0,711.9 1093.0,724.2 1099.7,718.0 1106.9,723.4 1113.5,723.4 1120.2,722.0 1126.9,726.6 1133.6,751.9 1141.0,756.2 1148.2,754.0 1154.9,754.0 1162.1,742.8 1169.0,746.0 1175.7,746.6 1182.4,745.8 1189.6,755.4 1195.7,763.6" fill="none" stroke="#7e57c2" stroke-width="1.1" stroke-linejoin="round"/>
</g>
<text x="18.0" y="709.0" font-size="12" fill="#434651" text-anchor="start" font-weight="normal" textLength="15.0" lengthAdjust="spacingAndGlyphs">RSI</text>
<text x="41.5" y="709.0" font-size="12" fill="#7e57c2" text-anchor="start" font-weight="normal" textLength="29.2" lengthAdjust="spacingAndGlyphs">42.20</text>
<text x="78.6" y="709.0" font-size="12" fill="#fbdf35" text-anchor="start" font-weight="normal" textLength="28.6" lengthAdjust="spacingAndGlyphs" stroke="#fbdf35" stroke-width="0.3">53.77</text>
<text x="115.5" y="708.8" font-size="11.5" fill="#434651" text-anchor="start" font-weight="normal" textLength="7.5" lengthAdjust="spacingAndGlyphs">∅</text>
<text x="130.6" y="708.8" font-size="11.5" fill="#434651" text-anchor="start" font-weight="normal" textLength="7.5" lengthAdjust="spacingAndGlyphs">∅</text>
<text x="146.0" y="708.8" font-size="11.5" fill="#434651" text-anchor="start" font-weight="normal" textLength="7.5" lengthAdjust="spacingAndGlyphs">∅</text>
<text x="161.2" y="708.8" font-size="11.5" fill="#434651" text-anchor="start" font-weight="normal" textLength="7.5" lengthAdjust="spacingAndGlyphs">∅</text>
<text x="176.4" y="708.8" font-size="11.5" fill="#434651" text-anchor="start" font-weight="normal" textLength="7.5" lengthAdjust="spacingAndGlyphs">∅</text>
<text x="191.5" y="708.8" font-size="11.5" fill="#434651" text-anchor="start" font-weight="normal" textLength="7.5" lengthAdjust="spacingAndGlyphs">∅</text>
<line x1="1425.5" y1="27" x2="1425.5" y2="821" stroke="#474b57" stroke-width="1"/>
<line x1="10" y1="794.5" x2="1489" y2="794.5" stroke="#474b57" stroke-width="1"/>
<rect x="1429.5" y="31.5" width="56" height="26" rx="4" fill="#fff" stroke="#e8eaf2" stroke-width="1"/>
<text x="1439.0" y="49.2" font-size="12" fill="#131722" text-anchor="start" font-weight="normal" textLength="20.5" lengthAdjust="spacingAndGlyphs">USD</text>
<text x="1433.3" y="97.3" font-size="12" fill="#50535e" text-anchor="start" font-weight="normal" textLength="29.4" lengthAdjust="spacingAndGlyphs">98.00</text>
<text x="1433.3" y="183.8" font-size="12" fill="#50535e" text-anchor="start" font-weight="normal" textLength="29.4" lengthAdjust="spacingAndGlyphs">94.00</text>
<text x="1433.3" y="227.1" font-size="12" fill="#50535e" text-anchor="start" font-weight="normal" textLength="29.4" lengthAdjust="spacingAndGlyphs">92.00</text>
<text x="1433.3" y="270.3" font-size="12" fill="#50535e" text-anchor="start" font-weight="normal" textLength="29.4" lengthAdjust="spacingAndGlyphs">90.00</text>
<text x="1433.3" y="313.6" font-size="12" fill="#50535e" text-anchor="start" font-weight="normal" textLength="29.4" lengthAdjust="spacingAndGlyphs">88.00</text>
<text x="1433.3" y="486.6" font-size="12" fill="#50535e" text-anchor="start" font-weight="normal" textLength="29.4" lengthAdjust="spacingAndGlyphs">80.00</text>
<text x="1433.3" y="529.9" font-size="12" fill="#50535e" text-anchor="start" font-weight="normal" textLength="29.4" lengthAdjust="spacingAndGlyphs">78.00</text>
<text x="1433.3" y="573.2" font-size="12" fill="#50535e" text-anchor="start" font-weight="normal" textLength="29.4" lengthAdjust="spacingAndGlyphs">76.00</text>
<text x="1433.3" y="616.4" font-size="12" fill="#50535e" text-anchor="start" font-weight="normal" textLength="29.4" lengthAdjust="spacingAndGlyphs">74.00</text>
<text x="1433.3" y="659.7" font-size="12" fill="#50535e" text-anchor="start" font-weight="normal" textLength="29.4" lengthAdjust="spacingAndGlyphs">72.00</text>
<text x="1433.3" y="700.3" font-size="12" fill="#50535e" text-anchor="start" font-weight="normal" textLength="29.4" lengthAdjust="spacingAndGlyphs">80.00</text>
<path d="M1425.5,130.5H1466.0Q1468.0,130.5 1468.0,132.5V145.2Q1468.0,147.2 1466.0,147.2H1425.5Z" fill="#1e222d"/>
<text x="1433.3" y="143.2" font-size="12" fill="#fff" text-anchor="start" font-weight="bold" textLength="29.8" lengthAdjust="spacingAndGlyphs">95.91</text>
<path d="M1425.5,278.5H1466.0Q1468.0,278.5 1468.0,280.5V293.0Q1468.0,295.0 1466.0,295.0H1425.5Z" fill="#000"/>
<text x="1433.3" y="291.1" font-size="12" fill="#fff" text-anchor="start" font-weight="bold" textLength="29.8" lengthAdjust="spacingAndGlyphs">89.05</text>
<path d="M1425.5,339.8H1483.0Q1485.0,339.8 1485.0,341.8V369.0Q1485.0,371.0 1483.0,371.0H1425.5Z" fill="#ef5350"/>
<text x="1433.3" y="353.2" font-size="12" fill="#fff" text-anchor="start" font-weight="bold" textLength="29.8" lengthAdjust="spacingAndGlyphs">86.21</text>
<text x="1433.3" y="366.8" font-size="12" fill="#fbdcdc" text-anchor="start" font-weight="normal" textLength="46.5" lengthAdjust="spacingAndGlyphs">06:09:00</text>
<path d="M1384.3,339.8H1424.0V356.7H1384.3Q1382.3,356.7 1382.3,354.7V341.8Q1382.3,339.8 1384.3,339.8Z" fill="#ef5350"/>
<text x="1387.0" y="352.6" font-size="12" fill="#fff" text-anchor="start" font-weight="bold" textLength="32.5" lengthAdjust="spacingAndGlyphs">UKOIL</text>
<path d="M1425.5,371.2H1466.0Q1468.0,371.2 1468.0,373.2V386.0Q1468.0,388.0 1466.0,388.0H1425.5Z" fill="#2f2bff"/>
<text x="1433.3" y="383.9" font-size="12" fill="#fff" text-anchor="start" font-weight="bold" textLength="29.8" lengthAdjust="spacingAndGlyphs">86.06</text>
<path d="M1375,371.2H1424V388.0H1375Q1373,388.0 1373,386.0V373.2Q1373,371.2 1375,371.2Z" fill="#2f2bff"/>
<text x="1378.0" y="383.9" font-size="12" fill="#fff" text-anchor="start" font-weight="bold" textLength="41.5" lengthAdjust="spacingAndGlyphs">SMA:MA</text>
<path d="M1425.5,388.6H1466.0Q1468.0,388.6 1468.0,390.6V403.0Q1468.0,405.0 1466.0,405.0H1425.5Z" fill="#000"/>
<text x="1433.3" y="401.1" font-size="12" fill="#fff" text-anchor="start" font-weight="bold" textLength="29.8" lengthAdjust="spacingAndGlyphs">84.57</text>
<path d="M1425.5,405.4H1466.0Q1468.0,405.4 1468.0,407.4V419.9Q1468.0,421.9 1466.0,421.9H1425.5Z" fill="#f23645"/>
<text x="1433.3" y="417.9" font-size="12" fill="#fff" text-anchor="start" font-weight="bold" textLength="29.8" lengthAdjust="spacingAndGlyphs">84.26</text>
<path d="M1375,405.4H1424V421.9H1375Q1373,421.9 1373,419.9V407.4Q1373,405.4 1375,405.4Z" fill="#f23645"/>
<text x="1378.0" y="417.9" font-size="12" fill="#fff" text-anchor="start" font-weight="bold" textLength="41.5" lengthAdjust="spacingAndGlyphs">SMA:MA</text>
<path d="M1425.5,432.5H1466.0Q1468.0,432.5 1468.0,434.5V447.2Q1468.0,449.2 1466.0,449.2H1425.5Z" fill="#131722"/>
<text x="1433.3" y="445.2" font-size="12" fill="#fff" text-anchor="start" font-weight="bold" textLength="29.8" lengthAdjust="spacingAndGlyphs">81.95</text>
<path d="M1425.5,449.2H1466.0Q1468.0,449.2 1468.0,451.2V463.8Q1468.0,465.8 1466.0,465.8H1425.5Z" fill="#131722"/>
<text x="1433.3" y="461.8" font-size="12" fill="#fff" text-anchor="start" font-weight="bold" textLength="29.8" lengthAdjust="spacingAndGlyphs">81.90</text>
<path d="M1425.5,659.4H1466.0Q1468.0,659.4 1468.0,661.4V674.0Q1468.0,676.0 1466.0,676.0H1425.5Z" fill="#000"/>
<text x="1433.3" y="672.0" font-size="12" fill="#fff" text-anchor="start" font-weight="bold" textLength="29.8" lengthAdjust="spacingAndGlyphs">71.44</text>
<rect x="1336" y="697.5" width="88" height="17" fill="#fff"/>
<rect x="1427" y="697.5" width="41" height="17" fill="#fff"/>
<text x="1336.7" y="710.4" font-size="12" fill="#131722" text-anchor="start" font-weight="normal" textLength="82.0" lengthAdjust="spacingAndGlyphs">Regular Bearish</text>
<text x="1433.3" y="711.0" font-size="12" fill="#131722" text-anchor="start" font-weight="normal" textLength="29.4" lengthAdjust="spacingAndGlyphs">75.56</text>
<path d="M1346,722.3H1424V738.6999999999999H1346Q1344,738.6999999999999 1344,736.6999999999999V724.3Q1344,722.3 1346,722.3Z" fill="#ffeb3b"/>
<text x="1348.6" y="734.9" font-size="12" fill="#131722" text-anchor="start" font-weight="normal" textLength="70.1" lengthAdjust="spacingAndGlyphs">RSI-based MA</text>
<path d="M1425.5,722.3H1466.0Q1468.0,722.3 1468.0,724.3V736.7Q1468.0,738.7 1466.0,738.7H1425.5Z" fill="#ffeb3b"/>
<text x="1433.3" y="734.8" font-size="12" fill="#131722" text-anchor="start" font-weight="normal" textLength="29.8" lengthAdjust="spacingAndGlyphs">53.77</text>
<rect x="1335.3" y="739" width="88.7" height="16.4" fill="#fff"/>
<text x="1340.5" y="751.5" font-size="12" fill="#131722" text-anchor="start" font-weight="normal" textLength="78.2" lengthAdjust="spacingAndGlyphs">Regular Bullish</text>
<text x="1433.3" y="752.0" font-size="12" fill="#131722" text-anchor="start" font-weight="normal" textLength="29.4" lengthAdjust="spacingAndGlyphs">46.36</text>
<path d="M1400.2,756H1424.0V772.5H1400.2Q1398.2,772.5 1398.2,770.5V758Q1398.2,756 1400.2,756Z" fill="#7e57c2"/>
<text x="1403.2" y="768.6" font-size="12" fill="#fff" text-anchor="start" font-weight="normal" textLength="15.8" lengthAdjust="spacingAndGlyphs">RSI</text>
<path d="M1425.5,756H1466.0Q1468.0,756 1468.0,758V770.5Q1468.0,772.5 1466.0,772.5H1425.5Z" fill="#7e57c2"/>
<text x="1433.3" y="768.5" font-size="12" fill="#fff" text-anchor="start" font-weight="normal" textLength="29.8" lengthAdjust="spacingAndGlyphs">42.20</text>
<text x="22.7" y="812.3" font-size="12" fill="#434651" text-anchor="start" font-weight="normal" textLength="18.6" lengthAdjust="spacingAndGlyphs">Sep</text>
<text x="167.8" y="812.3" font-size="12" fill="#434651" text-anchor="start" font-weight="normal" textLength="18.1" lengthAdjust="spacingAndGlyphs">Oct</text>
<text x="318.0" y="812.3" font-size="12" fill="#434651" text-anchor="start" font-weight="normal" textLength="20.8" lengthAdjust="spacingAndGlyphs">Nov</text>
<text x="470.0" y="812.3" font-size="12" fill="#434651" text-anchor="start" font-weight="normal" textLength="20.0" lengthAdjust="spacingAndGlyphs">Dec</text>
<text x="604.1" y="812.3" font-size="12" fill="#434651" text-anchor="start" font-weight="bold" textLength="27.3" lengthAdjust="spacingAndGlyphs">2024</text>
<text x="759.6" y="812.3" font-size="12" fill="#434651" text-anchor="start" font-weight="normal" textLength="19.6" lengthAdjust="spacingAndGlyphs">Feb</text>
<text x="903.2" y="812.3" font-size="12" fill="#434651" text-anchor="start" font-weight="normal" textLength="20.1" lengthAdjust="spacingAndGlyphs">Mar</text>
<text x="1042.0" y="812.3" font-size="12" fill="#434651" text-anchor="start" font-weight="normal" textLength="19.0" lengthAdjust="spacingAndGlyphs">Apr</text>
<text x="1192.4" y="812.3" font-size="12" fill="#434651" text-anchor="start" font-weight="normal" textLength="21.2" lengthAdjust="spacingAndGlyphs">May</text>
<text x="1353.2" y="812.3" font-size="12" fill="#434651" text-anchor="start" font-weight="normal" textLength="17.2" lengthAdjust="spacingAndGlyphs">Jun</text>
<g transform="translate(10,831.9) scale(0.553)" fill="#1e222d"><path d="M14 22H7V11H0V4h14v18zM28 22h-8l7.5-18h8L28 22z"/><circle cx="20" cy="8" r="4"/></g>
<text x="33.2" y="843.9" font-size="12.6" fill="#1e222d" text-anchor="start" font-weight="normal" textLength="70.0" lengthAdjust="spacingAndGlyphs">TradingView</text>
<defs><filter id="ws" filterUnits="userSpaceOnUse" x="-30" y="-90" width="330" height="130" color-interpolation-filters="sRGB"><feGaussianBlur in="SourceAlpha" stdDeviation="0.9" result="b"/><feOffset in="b" dx="2.3" dy="2.3" result="off"/><feComposite in="off" in2="SourceAlpha" operator="out" result="sh"/><feFlood flood-color="#3c3c3c" flood-opacity="0.5" result="c"/><feComposite in="c" in2="sh" operator="in" result="shc"/><feFlood flood-color="#ffffff" flood-opacity="0.68" result="w"/><feComposite in="w" in2="SourceAlpha" operator="in" result="wh"/><feMerge><feMergeNode in="shc"/><feMergeNode in="wh"/></feMerge></filter></defs>
<g class="wm" transform="translate(1246,815) skewX(-15)">
<text class="wm" filter="url(#ws)" x="0" y="0" font-size="59" fill="#ffffff" stroke="#ffffff" stroke-width="1.2" textLength="239" lengthAdjust="spacingAndGlyphs">海马财经</text>
</g>
<g transform="translate(1263,851) scale(1.22,1)"><text x="0" y="0" font-size="30" font-weight="bold" font-style="italic" fill="#8ab4f5" stroke="#8ab4f5" stroke-width="1.8" stroke-linejoin="miter" textLength="184" lengthAdjust="spacing">zzrt01.cn</text></g>
</svg></body></html>
